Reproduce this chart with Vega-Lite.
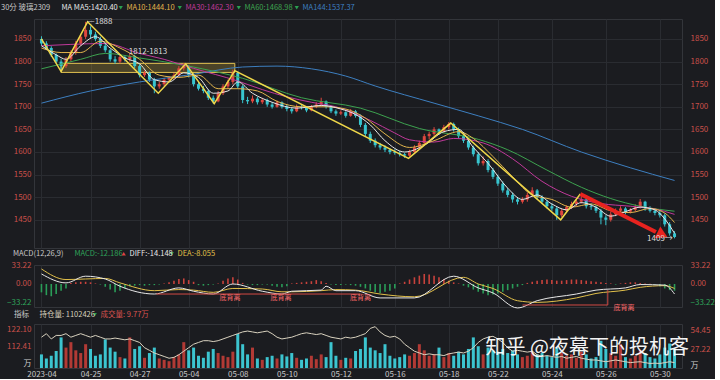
{
  "$schema": "https://vega.github.io/schema/vega-lite/v6.json",
  "background": "#1b1c20",
  "padding": {"top": 3, "left": 0, "right": 0, "bottom": 0},
  "bounds": "flush",
  "spacing": 17,
  "config": {
    "font": "Noto Sans CJK SC",
    "view": {"stroke": "#33353a"},
    "axis": {"domain": false, "ticks": false, "labelFontSize": 8, "gridColor": "#2a2c31", "gridWidth": 1},
    "legend": {"labelFontSize": 7.5, "titleFontSize": 7.5, "titleFontWeight": "normal", "titleColor": "#c8c8c8", "titlePadding": 5, "symbolSize": 18, "symbolType": "triangle-down", "symbolFillColor": "#2aa050", "symbolStrokeWidth": 0, "labelOffset": 2, "direction": "horizontal", "orient": "none", "titleOrient": "left"}
  },
  "datasets": {
    "k": [
      {"t":0,"o":1850,"h":1856,"l":1835,"c":1840,"v":20,"oi":118,"m":-15},
      {"t":1,"o":1840,"h":1845,"l":1826,"c":1830,"v":14,"oi":120,"m":-20},
      {"t":2,"o":1830,"h":1834,"l":1810,"c":1815,"v":18,"oi":117,"m":-22},
      {"t":3,"o":1815,"h":1818,"l":1796,"c":1800,"v":25,"oi":119,"m":-18},
      {"t":4,"o":1800,"h":1806,"l":1778,"c":1790,"v":45,"oi":119,"m":-12},
      {"t":5,"o":1790,"h":1810,"l":1786,"c":1805,"v":30,"oi":120,"m":-8},
      {"t":6,"o":1805,"h":1825,"l":1800,"c":1820,"v":38,"oi":118,"m":2},
      {"t":7,"o":1820,"h":1846,"l":1815,"c":1840,"v":26,"oi":119,"m":3},
      {"t":8,"o":1840,"h":1860,"l":1835,"c":1855,"v":22,"oi":120,"m":4},
      {"t":9,"o":1855,"h":1888,"l":1850,"c":1870,"v":35,"oi":119,"m":4},
      {"t":10,"o":1870,"h":1878,"l":1852,"c":1860,"v":28,"oi":118,"m":3},
      {"t":11,"o":1860,"h":1866,"l":1845,"c":1850,"v":18,"oi":119,"m":1},
      {"t":12,"o":1850,"h":1855,"l":1830,"c":1835,"v":20,"oi":118,"m":-1},
      {"t":13,"o":1835,"h":1842,"l":1820,"c":1825,"v":42,"oi":117,"m":-5},
      {"t":14,"o":1825,"h":1828,"l":1800,"c":1805,"v":30,"oi":117,"m":-10},
      {"t":15,"o":1805,"h":1812,"l":1795,"c":1800,"v":24,"oi":117.5,"m":-15},
      {"t":16,"o":1800,"h":1815,"l":1796,"c":1810,"v":16,"oi":117,"m":-12},
      {"t":17,"o":1810,"h":1814,"l":1800,"c":1805,"v":14,"oi":116.5,"m":-8},
      {"t":18,"o":1805,"h":1818,"l":1800,"c":1812,"v":45,"oi":117,"m":-4},
      {"t":19,"o":1812,"h":1815,"l":1785,"c":1790,"v":28,"oi":116,"m":-3},
      {"t":20,"o":1790,"h":1794,"l":1765,"c":1770,"v":32,"oi":115,"m":-2},
      {"t":21,"o":1770,"h":1780,"l":1766,"c":1775,"v":15,"oi":112,"m":-3},
      {"t":22,"o":1775,"h":1778,"l":1755,"c":1760,"v":22,"oi":110.5,"m":-2},
      {"t":23,"o":1760,"h":1764,"l":1730,"c":1745,"v":30,"oi":109,"m":-2},
      {"t":24,"o":1745,"h":1755,"l":1740,"c":1750,"v":14,"oi":108,"m":-1},
      {"t":25,"o":1750,"h":1764,"l":1746,"c":1760,"v":12,"oi":107,"m":1},
      {"t":26,"o":1760,"h":1768,"l":1755,"c":1765,"v":10,"oi":106,"m":3},
      {"t":27,"o":1765,"h":1775,"l":1760,"c":1770,"v":16,"oi":106.5,"m":6},
      {"t":28,"o":1770,"h":1790,"l":1766,"c":1785,"v":20,"oi":108,"m":9},
      {"t":29,"o":1785,"h":1797,"l":1780,"c":1790,"v":38,"oi":110,"m":10},
      {"t":30,"o":1790,"h":1792,"l":1765,"c":1770,"v":26,"oi":112,"m":7},
      {"t":31,"o":1770,"h":1774,"l":1745,"c":1750,"v":30,"oi":114,"m":4},
      {"t":32,"o":1750,"h":1755,"l":1736,"c":1740,"v":18,"oi":115,"m":-2},
      {"t":33,"o":1740,"h":1746,"l":1730,"c":1735,"v":15,"oi":116,"m":-3},
      {"t":34,"o":1735,"h":1738,"l":1715,"c":1720,"v":24,"oi":116,"m":-2},
      {"t":35,"o":1720,"h":1725,"l":1707,"c":1712,"v":28,"oi":115.5,"m":-1},
      {"t":36,"o":1712,"h":1735,"l":1710,"c":1730,"v":22,"oi":116,"m":1},
      {"t":37,"o":1730,"h":1750,"l":1726,"c":1745,"v":18,"oi":117,"m":6},
      {"t":38,"o":1745,"h":1760,"l":1740,"c":1755,"v":16,"oi":118,"m":10},
      {"t":39,"o":1755,"h":1782,"l":1750,"c":1775,"v":24,"oi":119,"m":12},
      {"t":40,"o":1775,"h":1778,"l":1740,"c":1745,"v":50,"oi":120,"m":8},
      {"t":41,"o":1745,"h":1748,"l":1708,"c":1715,"v":35,"oi":121,"m":2},
      {"t":42,"o":1715,"h":1722,"l":1706,"c":1712,"v":20,"oi":121.5,"m":-1},
      {"t":43,"o":1712,"h":1725,"l":1708,"c":1718,"v":30,"oi":121,"m":-2},
      {"t":44,"o":1718,"h":1722,"l":1705,"c":1710,"v":14,"oi":120.5,"m":-2},
      {"t":45,"o":1710,"h":1720,"l":1706,"c":1715,"v":12,"oi":121,"m":-1},
      {"t":46,"o":1715,"h":1718,"l":1700,"c":1705,"v":16,"oi":121.5,"m":-1},
      {"t":47,"o":1705,"h":1710,"l":1696,"c":1700,"v":18,"oi":120,"m":-3},
      {"t":48,"o":1700,"h":1714,"l":1698,"c":1710,"v":14,"oi":118,"m":-5},
      {"t":49,"o":1710,"h":1712,"l":1696,"c":1700,"v":20,"oi":117,"m":-6},
      {"t":50,"o":1700,"h":1704,"l":1690,"c":1695,"v":17,"oi":117.5,"m":-4},
      {"t":51,"o":1695,"h":1698,"l":1685,"c":1690,"v":22,"oi":118,"m":1},
      {"t":52,"o":1690,"h":1705,"l":1688,"c":1700,"v":15,"oi":119,"m":2},
      {"t":53,"o":1700,"h":1704,"l":1694,"c":1698,"v":12,"oi":120,"m":3},
      {"t":54,"o":1698,"h":1700,"l":1688,"c":1692,"v":14,"oi":120.5,"m":4},
      {"t":55,"o":1692,"h":1704,"l":1690,"c":1700,"v":18,"oi":120,"m":5},
      {"t":56,"o":1700,"h":1710,"l":1697,"c":1705,"v":13,"oi":119.5,"m":7},
      {"t":57,"o":1705,"h":1720,"l":1702,"c":1712,"v":20,"oi":120,"m":5},
      {"t":58,"o":1712,"h":1714,"l":1696,"c":1700,"v":16,"oi":119,"m":2},
      {"t":59,"o":1700,"h":1703,"l":1686,"c":1690,"v":38,"oi":118,"m":-1},
      {"t":60,"o":1690,"h":1694,"l":1680,"c":1685,"v":18,"oi":117.5,"m":-2},
      {"t":61,"o":1685,"h":1692,"l":1682,"c":1688,"v":12,"oi":117,"m":-2},
      {"t":62,"o":1688,"h":1690,"l":1676,"c":1680,"v":15,"oi":118,"m":-1},
      {"t":63,"o":1680,"h":1695,"l":1678,"c":1690,"v":14,"oi":117.5,"m":-2},
      {"t":64,"o":1690,"h":1693,"l":1676,"c":1680,"v":25,"oi":118,"m":-3},
      {"t":65,"o":1680,"h":1683,"l":1655,"c":1660,"v":28,"oi":119,"m":-5},
      {"t":66,"o":1660,"h":1664,"l":1635,"c":1640,"v":45,"oi":120,"m":-8},
      {"t":67,"o":1640,"h":1645,"l":1620,"c":1625,"v":30,"oi":123,"m":-12},
      {"t":68,"o":1625,"h":1630,"l":1610,"c":1615,"v":26,"oi":124,"m":-15},
      {"t":69,"o":1615,"h":1620,"l":1605,"c":1610,"v":22,"oi":121,"m":-16},
      {"t":70,"o":1610,"h":1615,"l":1600,"c":1605,"v":35,"oi":119,"m":-14},
      {"t":71,"o":1605,"h":1608,"l":1595,"c":1600,"v":18,"oi":118,"m":-12},
      {"t":72,"o":1600,"h":1606,"l":1594,"c":1598,"v":14,"oi":118.5,"m":-8},
      {"t":73,"o":1598,"h":1602,"l":1590,"c":1595,"v":16,"oi":117,"m":1},
      {"t":74,"o":1595,"h":1598,"l":1587,"c":1592,"v":20,"oi":114,"m":4},
      {"t":75,"o":1592,"h":1605,"l":1590,"c":1600,"v":18,"oi":112,"m":8},
      {"t":76,"o":1600,"h":1615,"l":1598,"c":1610,"v":22,"oi":110,"m":12},
      {"t":77,"o":1610,"h":1625,"l":1606,"c":1620,"v":35,"oi":109,"m":15},
      {"t":78,"o":1620,"h":1640,"l":1616,"c":1635,"v":26,"oi":108,"m":18},
      {"t":79,"o":1635,"h":1645,"l":1628,"c":1640,"v":18,"oi":108.5,"m":17},
      {"t":80,"o":1640,"h":1655,"l":1636,"c":1650,"v":20,"oi":108,"m":15},
      {"t":81,"o":1650,"h":1652,"l":1638,"c":1645,"v":30,"oi":108,"m":12},
      {"t":82,"o":1645,"h":1660,"l":1642,"c":1655,"v":16,"oi":107.5,"m":9},
      {"t":83,"o":1655,"h":1666,"l":1650,"c":1662,"v":22,"oi":108.5,"m":6},
      {"t":84,"o":1662,"h":1665,"l":1645,"c":1650,"v":18,"oi":109,"m":3},
      {"t":85,"o":1650,"h":1654,"l":1630,"c":1635,"v":24,"oi":109.5,"m":1},
      {"t":86,"o":1635,"h":1640,"l":1620,"c":1625,"v":20,"oi":109,"m":-3},
      {"t":87,"o":1625,"h":1630,"l":1605,"c":1610,"v":28,"oi":110,"m":-6},
      {"t":88,"o":1610,"h":1614,"l":1590,"c":1595,"v":45,"oi":112,"m":-10},
      {"t":89,"o":1595,"h":1600,"l":1570,"c":1575,"v":32,"oi":115,"m":-14},
      {"t":90,"o":1575,"h":1590,"l":1570,"c":1580,"v":20,"oi":117,"m":-17},
      {"t":91,"o":1580,"h":1584,"l":1555,"c":1560,"v":30,"oi":118,"m":-20},
      {"t":92,"o":1560,"h":1565,"l":1540,"c":1545,"v":26,"oi":118.5,"m":-19},
      {"t":93,"o":1545,"h":1550,"l":1525,"c":1530,"v":24,"oi":117,"m":-17},
      {"t":94,"o":1530,"h":1535,"l":1510,"c":1515,"v":28,"oi":115,"m":-14},
      {"t":95,"o":1515,"h":1520,"l":1500,"c":1505,"v":22,"oi":112,"m":-11},
      {"t":96,"o":1505,"h":1510,"l":1488,"c":1495,"v":26,"oi":110,"m":-8},
      {"t":97,"o":1495,"h":1500,"l":1484,"c":1490,"v":20,"oi":110.5,"m":-5},
      {"t":98,"o":1490,"h":1500,"l":1486,"c":1495,"v":16,"oi":110,"m":-2},
      {"t":99,"o":1495,"h":1510,"l":1490,"c":1505,"v":18,"oi":109.5,"m":2},
      {"t":100,"o":1505,"h":1522,"l":1500,"c":1515,"v":24,"oi":110,"m":4},
      {"t":101,"o":1515,"h":1518,"l":1495,"c":1500,"v":20,"oi":108,"m":6},
      {"t":102,"o":1500,"h":1504,"l":1485,"c":1490,"v":22,"oi":107,"m":7},
      {"t":103,"o":1490,"h":1494,"l":1475,"c":1480,"v":18,"oi":107.5,"m":8},
      {"t":104,"o":1480,"h":1486,"l":1470,"c":1475,"v":16,"oi":107,"m":7},
      {"t":105,"o":1475,"h":1478,"l":1450,"c":1460,"v":30,"oi":106.5,"m":6},
      {"t":106,"o":1460,"h":1475,"l":1456,"c":1470,"v":22,"oi":107,"m":6},
      {"t":107,"o":1470,"h":1482,"l":1466,"c":1478,"v":18,"oi":106,"m":7},
      {"t":108,"o":1478,"h":1490,"l":1474,"c":1485,"v":20,"oi":106.5,"m":8},
      {"t":109,"o":1485,"h":1495,"l":1480,"c":1490,"v":15,"oi":107,"m":8},
      {"t":110,"o":1490,"h":1507,"l":1486,"c":1495,"v":24,"oi":106,"m":7},
      {"t":111,"o":1495,"h":1498,"l":1475,"c":1480,"v":20,"oi":105.5,"m":6},
      {"t":112,"o":1480,"h":1486,"l":1472,"c":1478,"v":14,"oi":105,"m":5},
      {"t":113,"o":1478,"h":1482,"l":1465,"c":1470,"v":16,"oi":105,"m":4},
      {"t":114,"o":1470,"h":1474,"l":1440,"c":1455,"v":40,"oi":104.5,"m":3},
      {"t":115,"o":1455,"h":1460,"l":1438,"c":1450,"v":28,"oi":104,"m":2},
      {"t":116,"o":1450,"h":1468,"l":1446,"c":1462,"v":22,"oi":104.5,"m":1},
      {"t":117,"o":1462,"h":1475,"l":1458,"c":1470,"v":18,"oi":105,"m":-1},
      {"t":118,"o":1470,"h":1480,"l":1466,"c":1475,"v":35,"oi":104.5,"m":1},
      {"t":119,"o":1475,"h":1478,"l":1462,"c":1468,"v":16,"oi":104,"m":2},
      {"t":120,"o":1468,"h":1476,"l":1464,"c":1472,"v":14,"oi":103.5,"m":3},
      {"t":121,"o":1472,"h":1484,"l":1468,"c":1478,"v":18,"oi":103.8,"m":3},
      {"t":122,"o":1478,"h":1496,"l":1475,"c":1490,"v":26,"oi":104,"m":2},
      {"t":123,"o":1490,"h":1492,"l":1470,"c":1475,"v":22,"oi":103.5,"m":1},
      {"t":124,"o":1475,"h":1480,"l":1466,"c":1470,"v":16,"oi":103,"m":0.5},
      {"t":125,"o":1470,"h":1474,"l":1460,"c":1465,"v":14,"oi":103.2,"m":-1},
      {"t":126,"o":1465,"h":1470,"l":1455,"c":1460,"v":20,"oi":103,"m":-4},
      {"t":127,"o":1460,"h":1464,"l":1435,"c":1440,"v":30,"oi":103.5,"m":-8},
      {"t":128,"o":1440,"h":1445,"l":1415,"c":1420,"v":36,"oi":104,"m":-11},
      {"t":129,"o":1420,"h":1425,"l":1409,"c":1412,"v":28,"oi":103.5,"m":-12}
    ],
    "ma": [
      {"s":"MA5","t":0,"v":1835},{"s":"MA5","t":3,"v":1815},{"s":"MA5","t":5,"v":1805},{"s":"MA5","t":8,"v":1835},{"s":"MA5","t":11,"v":1855},{"s":"MA5","t":14,"v":1830},{"s":"MA5","t":17,"v":1808},{"s":"MA5","t":20,"v":1795},{"s":"MA5","t":23,"v":1760},{"s":"MA5","t":26,"v":1755},{"s":"MA5","t":29,"v":1775},{"s":"MA5","t":32,"v":1765},{"s":"MA5","t":35,"v":1730},{"s":"MA5","t":38,"v":1735},{"s":"MA5","t":40,"v":1755},{"s":"MA5","t":43,"v":1730},{"s":"MA5","t":47,"v":1710},{"s":"MA5","t":52,"v":1697},{"s":"MA5","t":57,"v":1703},{"s":"MA5","t":61,"v":1695},{"s":"MA5","t":64,"v":1683},{"s":"MA5","t":67,"v":1660},{"s":"MA5","t":70,"v":1625},{"s":"MA5","t":74,"v":1600},{"s":"MA5","t":78,"v":1615},{"s":"MA5","t":82,"v":1645},{"s":"MA5","t":85,"v":1650},{"s":"MA5","t":88,"v":1610},{"s":"MA5","t":91,"v":1575},{"s":"MA5","t":95,"v":1520},{"s":"MA5","t":98,"v":1495},{"s":"MA5","t":101,"v":1505},{"s":"MA5","t":104,"v":1485},{"s":"MA5","t":107,"v":1472},{"s":"MA5","t":110,"v":1488},{"s":"MA5","t":113,"v":1478},{"s":"MA5","t":116,"v":1458},{"s":"MA5","t":119,"v":1468},{"s":"MA5","t":122,"v":1478},{"s":"MA5","t":125,"v":1472},{"s":"MA5","t":127,"v":1452},{"s":"MA5","t":129,"v":1420},
      {"s":"MA10","t":0,"v":1830},{"s":"MA10","t":4,"v":1820},{"s":"MA10","t":8,"v":1820},{"s":"MA10","t":12,"v":1845},{"s":"MA10","t":16,"v":1830},{"s":"MA10","t":20,"v":1805},{"s":"MA10","t":24,"v":1770},{"s":"MA10","t":28,"v":1765},{"s":"MA10","t":32,"v":1770},{"s":"MA10","t":36,"v":1740},{"s":"MA10","t":40,"v":1740},{"s":"MA10","t":44,"v":1735},{"s":"MA10","t":48,"v":1712},{"s":"MA10","t":53,"v":1700},{"s":"MA10","t":58,"v":1700},{"s":"MA10","t":62,"v":1695},{"s":"MA10","t":66,"v":1675},{"s":"MA10","t":70,"v":1640},{"s":"MA10","t":75,"v":1610},{"s":"MA10","t":80,"v":1625},{"s":"MA10","t":85,"v":1645},{"s":"MA10","t":88,"v":1630},{"s":"MA10","t":92,"v":1590},{"s":"MA10","t":96,"v":1545},{"s":"MA10","t":100,"v":1505},{"s":"MA10","t":104,"v":1495},{"s":"MA10","t":108,"v":1478},{"s":"MA10","t":112,"v":1485},{"s":"MA10","t":116,"v":1470},{"s":"MA10","t":120,"v":1466},{"s":"MA10","t":124,"v":1475},{"s":"MA10","t":127,"v":1465},{"s":"MA10","t":129,"v":1444},
      {"s":"MA30","t":0,"v":1835},{"s":"MA30","t":6,"v":1838},{"s":"MA30","t":13,"v":1840},{"s":"MA30","t":20,"v":1818},{"s":"MA30","t":25,"v":1805},{"s":"MA30","t":31,"v":1785},{"s":"MA30","t":40,"v":1757},{"s":"MA30","t":45,"v":1738},{"s":"MA30","t":50,"v":1722},{"s":"MA30","t":55,"v":1710},{"s":"MA30","t":60,"v":1700},{"s":"MA30","t":67,"v":1670},{"s":"MA30","t":72,"v":1642},{"s":"MA30","t":75,"v":1627},{"s":"MA30","t":80,"v":1622},{"s":"MA30","t":84,"v":1630},{"s":"MA30","t":90,"v":1620},{"s":"MA30","t":96,"v":1585},{"s":"MA30","t":102,"v":1535},{"s":"MA30","t":108,"v":1502},{"s":"MA30","t":114,"v":1486},{"s":"MA30","t":120,"v":1480},{"s":"MA30","t":125,"v":1474},{"s":"MA30","t":129,"v":1462},
      {"s":"MA60","t":0,"v":1784},{"s":"MA60","t":8,"v":1805},{"s":"MA60","t":13,"v":1818},{"s":"MA60","t":20,"v":1808},{"s":"MA60","t":30,"v":1790},{"s":"MA60","t":41,"v":1763},{"s":"MA60","t":53,"v":1720},{"s":"MA60","t":65,"v":1697},{"s":"MA60","t":77,"v":1652},{"s":"MA60","t":89,"v":1628},{"s":"MA60","t":95,"v":1605},{"s":"MA60","t":103,"v":1560},{"s":"MA60","t":110,"v":1522},{"s":"MA60","t":116,"v":1497},{"s":"MA60","t":122,"v":1480},{"s":"MA60","t":129,"v":1469},
      {"s":"MA144","t":0,"v":1708},{"s":"MA144","t":10,"v":1735},{"s":"MA144","t":20,"v":1755},{"s":"MA144","t":31,"v":1772},{"s":"MA144","t":41,"v":1788},{"s":"MA144","t":48,"v":1790},{"s":"MA144","t":55,"v":1784},{"s":"MA144","t":62,"v":1768},{"s":"MA144","t":68,"v":1746},{"s":"MA144","t":80,"v":1708},{"s":"MA144","t":89,"v":1680},{"s":"MA144","t":98,"v":1650},{"s":"MA144","t":110,"v":1600},{"s":"MA144","t":120,"v":1565},{"s":"MA144","t":129,"v":1537}
    ],
    "zz": [
      {"t":0,"p":1850},{"t":4,"p":1778},{"t":9.4,"p":1888},{"t":23.8,"p":1730},{"t":29.4,"p":1795},{"t":35.2,"p":1707},{"t":39.4,"p":1780},{"t":74.8,"p":1586},{"t":83.4,"p":1664},{"t":105.8,"p":1450},{"t":109.8,"p":1507}
    ],
    "box": [{"t":4,"t2":39.4,"p":1776,"p2":1796}],
    "arrow": [{"t":109.8,"p":1507},{"t":125.2,"p":1423}],
    "head": [{"t":126.2,"p":1418.5}],
    "ann": [
      {"t":9.4,"p":1888,"label":"—1888"},
      {"t":17.8,"p":1821,"label":"1812-1813"},
      {"t":123.4,"p":1408,"label":"1409→"}
    ],
    "md": [
      {"s":"DIFF","t":0,"v":18},{"s":"DIFF","t":5,"v":2},{"s":"DIFF","t":9,"v":14},{"s":"DIFF","t":13,"v":9},{"s":"DIFF","t":16,"v":-4},{"s":"DIFF","t":23,"v":-18},{"s":"DIFF","t":28,"v":-7},{"s":"DIFF","t":31,"v":-13},{"s":"DIFF","t":35,"v":-18},{"s":"DIFF","t":39,"v":0},{"s":"DIFF","t":45,"v":-13},{"s":"DIFF","t":49,"v":-18},{"s":"DIFF","t":51,"v":-13},{"s":"DIFF","t":57,"v":-11},{"s":"DIFF","t":58,"v":-4},{"s":"DIFF","t":60,"v":-12},{"s":"DIFF","t":64,"v":-12},{"s":"DIFF","t":69,"v":-25},{"s":"DIFF","t":76,"v":-25},{"s":"DIFF","t":84,"v":14},{"s":"DIFF","t":89,"v":-7},{"s":"DIFF","t":92,"v":-16},{"s":"DIFF","t":97,"v":-43},{"s":"DIFF","t":101,"v":-30},{"s":"DIFF","t":109,"v":-18},{"s":"DIFF","t":113,"v":-11},{"s":"DIFF","t":119,"v":-7},{"s":"DIFF","t":122,"v":-1},{"s":"DIFF","t":127,"v":-2},{"s":"DIFF","t":129,"v":-18},
      {"s":"DEA","t":0,"v":27},{"s":"DEA","t":5,"v":8},{"s":"DEA","t":9,"v":9},{"s":"DEA","t":13,"v":10},{"s":"DEA","t":16,"v":2},{"s":"DEA","t":23,"v":-12},{"s":"DEA","t":28,"v":-10},{"s":"DEA","t":31,"v":-11},{"s":"DEA","t":35,"v":-15},{"s":"DEA","t":39,"v":-8},{"s":"DEA","t":45,"v":-9},{"s":"DEA","t":49,"v":-14},{"s":"DEA","t":51,"v":-14},{"s":"DEA","t":57,"v":-12},{"s":"DEA","t":60,"v":-10},{"s":"DEA","t":64,"v":-11},{"s":"DEA","t":69,"v":-18},{"s":"DEA","t":76,"v":-23},{"s":"DEA","t":86,"v":12},{"s":"DEA","t":89,"v":0},{"s":"DEA","t":92,"v":-8},{"s":"DEA","t":97,"v":-30},{"s":"DEA","t":101,"v":-33},{"s":"DEA","t":109,"v":-25},{"s":"DEA","t":113,"v":-17},{"s":"DEA","t":119,"v":-11},{"s":"DEA","t":122,"v":-6},{"s":"DEA","t":127,"v":-3},{"s":"DEA","t":129,"v":-8}
    ],
    "dv": [
      {"t":23.4,"t2":65,"v":-18,"v2":-18},
      {"t":98,"t2":115.4,"v":-37.7,"v2":-37.7},
      {"t":115.4,"t2":115.4,"v":-37.7,"v2":-11}
    ],
    "dl": [
      {"t":38.4,"v":-25,"label":"底背离"},
      {"t":48.8,"v":-25,"label":"底背离"},
      {"t":65,"v":-25,"label":"底背离"},
      {"t":118.7,"v":-43,"label":"底背离"}
    ],
    "wm": [{"t":90.5,"p":29.4,"label":"知乎 @夜幕下的投机客"}]
  },
  "resolve": {"scale": {"x": "independent", "y": "independent", "stroke": "independent", "color": "independent"}, "legend": {"stroke": "independent"}},
  "vconcat": [
    {
      "width": 648,
      "height": 229,
      "encoding": {
        "x": {"field": "t", "type": "quantitative", "scale": {"domain": [-0.5, 129.5], "nice": false, "zero": false},
          "axis": {"values": [0,10,20,30,40,50,61,72,83,93,104,115,126], "labels": false, "grid": true, "title": null}}
      },
      "layer": [
        {
          "data": {"name": "box"},
          "mark": {"type": "rect", "fill": "#c9a93c", "fillOpacity": 0.28, "stroke": "#e0c050", "strokeWidth": 1},
          "encoding": {
            "x2": {"field": "t2"},
            "y": {"field": "p", "type": "quantitative", "scale": {"domain": [1387.6, 1894.2], "nice": false, "zero": false}, "axis": null},
            "y2": {"field": "p2"}
          }
        },
        {
          "data": {"name": "k"},
          "mark": {"type": "rule", "strokeWidth": 1},
          "encoding": {
            "y": {"field": "l", "type": "quantitative", "scale": {"domain": [1387.6, 1894.2], "nice": false, "zero": false},
              "axis": {"orient": "left", "values": [1450,1500,1550,1600,1650,1700,1750,1800,1850], "format": "d", "grid": true, "labelColor": "#c9504a", "labelPadding": 3, "title": null}},
            "y2": {"field": "h"},
            "color": {"condition": {"test": "datum.c >= datum.o", "value": "#e0473f"}, "value": "#38c5cf"}
          }
        },
        {
          "data": {"name": "k"},
          "mark": {"type": "bar", "size": 3},
          "encoding": {
            "y": {"field": "o", "type": "quantitative", "scale": {"domain": [1387.6, 1894.2], "nice": false, "zero": false}, "axis": null},
            "y2": {"field": "c"},
            "color": {"condition": {"test": "datum.c >= datum.o", "value": "#e0473f"}, "value": "#38c5cf"}
          }
        },
        {
          "data": {"name": "ma"},
          "transform": [{"filter": "datum.s === 'MA144'"}],
          "mark": {"type": "line", "interpolate": "monotone", "strokeWidth": 1},
          "encoding": {
            "y": {"field": "v", "type": "quantitative", "scale": {"domain": [1387.6, 1894.2], "nice": false, "zero": false}, "axis": null},
            "stroke": {"datum": "MA144:1537.37", "type": "nominal", "scale": {"range": ["#3d7fc0"]},
              "legend": {"legendX": 259, "legendY": -15, "title": null, "labelColor": "#3d7fc0"}}
          }
        },
        {
          "data": {"name": "ma"},
          "transform": [{"filter": "datum.s === 'MA60'"}],
          "mark": {"type": "line", "interpolate": "monotone", "strokeWidth": 1},
          "encoding": {
            "y": {"field": "v", "type": "quantitative", "scale": {"domain": [1387.6, 1894.2], "nice": false, "zero": false}, "axis": null},
            "stroke": {"datum": "MA60:1468.98", "type": "nominal", "scale": {"range": ["#3da24f"]},
              "legend": {"legendX": 201, "legendY": -15, "title": null, "labelColor": "#3da24f"}}
          }
        },
        {
          "data": {"name": "ma"},
          "transform": [{"filter": "datum.s === 'MA30'"}],
          "mark": {"type": "line", "interpolate": "monotone", "strokeWidth": 1},
          "encoding": {
            "y": {"field": "v", "type": "quantitative", "scale": {"domain": [1387.6, 1894.2], "nice": false, "zero": false}, "axis": null},
            "stroke": {"datum": "MA30:1462.30", "type": "nominal", "scale": {"range": ["#c0399a"]},
              "legend": {"legendX": 142, "legendY": -15, "title": null, "labelColor": "#c0399a"}}
          }
        },
        {
          "data": {"name": "ma"},
          "transform": [{"filter": "datum.s === 'MA10'"}],
          "mark": {"type": "line", "interpolate": "monotone", "strokeWidth": 1},
          "encoding": {
            "y": {"field": "v", "type": "quantitative", "scale": {"domain": [1387.6, 1894.2], "nice": false, "zero": false}, "axis": null},
            "stroke": {"datum": "MA10:1444.10", "type": "nominal", "scale": {"range": ["#e3b54c"]},
              "legend": {"legendX": 83, "legendY": -15, "title": null, "labelColor": "#e3b54c"}}
          }
        },
        {
          "data": {"name": "ma"},
          "transform": [{"filter": "datum.s === 'MA5'"}],
          "mark": {"type": "line", "interpolate": "monotone", "strokeWidth": 1},
          "encoding": {
            "y": {"field": "v", "type": "quantitative", "scale": {"domain": [1387.6, 1894.2], "nice": false, "zero": false}, "axis": null},
            "stroke": {"datum": "MA MA5:1420.40", "type": "nominal", "scale": {"range": ["#e8e8e8"]},
              "legend": {"legendX": -33, "legendY": -15, "title": "30分 玻璃2309", "titlePadding": 3, "labelOffset": 0, "labelColor": "#e8e8e8", "symbolSize": 1, "symbolFillColor": "transparent", "symbolOpacity": 0}}
          }
        },
        {
          "data": {"name": "zz"},
          "mark": {"type": "line", "stroke": "#f0d84a", "strokeWidth": 1.5},
          "encoding": {
            "y": {"field": "p", "type": "quantitative", "scale": {"domain": [1387.6, 1894.2], "nice": false, "zero": false},
              "axis": {"orient": "right", "values": [1450,1500,1550,1600,1650,1700,1750,1800,1850], "format": "d", "grid": false, "labelColor": "#c9504a", "labelPadding": 8, "title": null}}
          }
        },
        {
          "data": {"name": "arrow"},
          "mark": {"type": "line", "stroke": "#e8231f", "strokeWidth": 4},
          "encoding": {
            "y": {"field": "p", "type": "quantitative", "scale": {"domain": [1387.6, 1894.2], "nice": false, "zero": false}, "axis": null}
          }
        },
        {
          "data": {"name": "head"},
          "mark": {"type": "point", "shape": "triangle", "angle": 116, "size": 170, "filled": true, "fill": "#e8231f", "opacity": 1},
          "encoding": {
            "y": {"field": "p", "type": "quantitative", "scale": {"domain": [1387.6, 1894.2], "nice": false, "zero": false}, "axis": null}
          }
        },
        {
          "data": {"name": "ann"},
          "mark": {"type": "text", "align": "left", "baseline": "middle", "fontSize": 8, "fill": "#dddddd"},
          "encoding": {
            "y": {"field": "p", "type": "quantitative", "scale": {"domain": [1387.6, 1894.2], "nice": false, "zero": false}, "axis": null},
            "text": {"field": "label"}
          }
        }
      ],
      "resolve": {"axis": {"y": "independent"}, "scale": {"stroke": "independent"}, "legend": {"stroke": "independent"}}
    },
    {
      "width": 648,
      "height": 42,
      "encoding": {
        "x": {"field": "t", "type": "quantitative", "scale": {"domain": [-0.5, 129.5], "nice": false, "zero": false},
          "axis": {"values": [0,10,20,30,40,50,61,72,83,93,104,115,126], "labels": false, "grid": true, "title": null}}
      },
      "layer": [
        {
          "data": {"name": "k"},
          "mark": {"type": "bar", "size": 1.6, "strokeWidth": 0},
          "encoding": {
            "y": {"field": "m", "type": "quantitative", "scale": {"domain": [-41.3, 34.1], "nice": false, "zero": false},
              "axis": {"orient": "left", "values": [-33.22, 0, 33.22], "format": ".2f", "grid": false, "labelPadding": 3, "title": null,
                "labelColor": {"condition": {"test": "datum.value < 0", "value": "#2fa35a"}, "value": "#c9504a"}}},
            "color": {"condition": {"test": "datum.m > 0", "value": "#c8423c"}, "value": "#2a9d58"},
            "stroke": {"datum": "MACD:-12.186", "type": "nominal", "scale": {"range": ["#2fa35a"]},
              "legend": {"legendX": -21, "legendY": -15, "title": "MACD(12,26,9)", "titlePadding": 3, "labelOffset": 0, "labelColor": "#2fa35a", "symbolSize": 1, "symbolFillColor": "transparent", "symbolOpacity": 0}}
          }
        },
        {
          "data": {"name": "md"},
          "transform": [{"filter": "datum.s === 'DEA'"}],
          "mark": {"type": "line", "interpolate": "monotone", "strokeWidth": 1},
          "encoding": {
            "y": {"field": "v", "type": "quantitative", "scale": {"domain": [-41.3, 34.1], "nice": false, "zero": false}, "axis": null},
            "stroke": {"datum": "DEA:-8.055", "type": "nominal", "scale": {"range": ["#e2c04a"]},
              "legend": {"legendX": 134, "legendY": -15, "title": null, "labelColor": "#e2c04a"}}
          }
        },
        {
          "data": {"name": "md"},
          "transform": [{"filter": "datum.s === 'DIFF'"}],
          "mark": {"type": "line", "interpolate": "monotone", "strokeWidth": 1},
          "encoding": {
            "y": {"field": "v", "type": "quantitative", "scale": {"domain": [-41.3, 34.1], "nice": false, "zero": false},
              "axis": {"orient": "right", "values": [-33.22, 0, 33.22], "format": ".2f", "grid": false, "labelPadding": 8, "title": null,
                "labelColor": {"condition": {"test": "datum.value < 0", "value": "#2fa35a"}, "value": "#c9504a"}}},
            "stroke": {"datum": "DIFF:-14.148", "type": "nominal", "scale": {"range": ["#e8e8e8"]},
              "legend": {"legendX": 86, "legendY": -15, "title": null, "labelColor": "#e8e8e8", "symbolType": "triangle-up", "symbolFillColor": "#e04040"}}
          }
        },
        {
          "data": {"name": "dv"},
          "mark": {"type": "rule", "stroke": "#d24a44", "strokeWidth": 1},
          "encoding": {
            "x2": {"field": "t2"},
            "y": {"field": "v", "type": "quantitative", "scale": {"domain": [-41.3, 34.1], "nice": false, "zero": false}, "axis": null},
            "y2": {"field": "v2"}
          }
        },
        {
          "data": {"name": "dl"},
          "mark": {"type": "text", "align": "center", "baseline": "middle", "fontSize": 7, "fill": "#ff6b6b"},
          "encoding": {
            "y": {"field": "v", "type": "quantitative", "scale": {"domain": [-41.3, 34.1], "nice": false, "zero": false}, "axis": null},
            "text": {"field": "label"}
          }
        }
      ],
      "resolve": {"axis": {"y": "independent"}, "scale": {"stroke": "independent"}, "legend": {"stroke": "independent"}}
    },
    {
      "width": 648,
      "height": 44,
      "encoding": {
        "x": {"field": "t", "type": "quantitative", "scale": {"domain": [-0.5, 129.5], "nice": false, "zero": false},
          "axis": {"values": [0,10,20,30,40,50,61,72,83,93,104,115,126], "grid": true, "title": null, "labelColor": "#c8c8c8", "labelPadding": 2, "labelFontSize": 8,
            "labelExpr": "['2023-04','04-25','04-27','05-04','05-08','05-10','05-12','05-16','05-18','05-22','05-24','05-26','05-30'][indexof([0,10,20,30,40,50,61,72,83,93,104,115,126], datum.value)]"}}
      },
      "layer": [
        {
          "data": {"name": "k"},
          "mark": {"type": "bar", "size": 3, "strokeWidth": 0},
          "encoding": {
            "y": {"field": "v", "type": "quantitative", "scale": {"domain": [0, 64.7], "nice": false},
              "axis": {"orient": "right", "values": [4, 27.22, 54.45], "grid": false, "labelPadding": 8, "title": null,
                "labelExpr": "datum.value < 10 ? '万' : format(datum.value, '.2f')",
                "labelColor": {"condition": {"test": "datum.value < 10", "value": "#d0d0d0"}, "value": "#c9504a"}}},
            "color": {"condition": {"test": "datum.c >= datum.o", "value": "#b23a35"}, "value": "#3cc4cf"}
          }
        },
        {
          "data": {"name": "k"},
          "transform": [{"filter": "datum.t < 0"}],
          "mark": {"type": "line", "strokeWidth": 1},
          "encoding": {
            "y": {"field": "v", "type": "quantitative", "scale": {"domain": [0, 64.7], "nice": false}, "axis": null},
            "stroke": {"datum": "成交量: 9.77万", "type": "nominal", "scale": {"range": ["#d9534f"]},
              "legend": {"legendX": 57, "legendY": -13, "title": null, "labelColor": "#d9534f"}}
          }
        },
        {
          "data": {"name": "k"},
          "mark": {"type": "line", "strokeWidth": 1},
          "encoding": {
            "y": {"field": "oi", "type": "quantitative", "scale": {"domain": [100.43, 125.52], "nice": false, "zero": false},
              "axis": {"orient": "left", "values": [102.72, 112.41, 122.1], "grid": false, "labelPadding": 3, "title": null,
                "labelExpr": "datum.value < 105 ? '万' : format(datum.value, '.2f')",
                "labelColor": {"condition": {"test": "datum.value < 105", "value": "#d0d0d0"}, "value": "#c9504a"}}},
            "stroke": {"datum": "持仓量: 1102426", "type": "nominal", "scale": {"range": ["#d9d2bf"]},
              "legend": {"legendX": -20, "legendY": -13, "title": "指标", "titlePadding": 3, "labelOffset": 0, "labelColor": "#d9d2bf", "symbolSize": 1, "symbolFillColor": "transparent", "symbolOpacity": 0}}
          }
        },
        {
          "data": {"name": "wm"},
          "mark": {"type": "text", "align": "left", "baseline": "middle", "fontSize": 20, "fill": "#ffffff", "opacity": 0.95},
          "encoding": {
            "y": {"field": "p", "type": "quantitative", "scale": {"domain": [0, 64.7], "nice": false}, "axis": null},
            "text": {"field": "label"}
          }
        }
      ],
      "resolve": {"scale": {"y": "independent", "stroke": "independent"}, "axis": {"y": "independent"}, "legend": {"stroke": "independent"}}
    }
  ]
}
